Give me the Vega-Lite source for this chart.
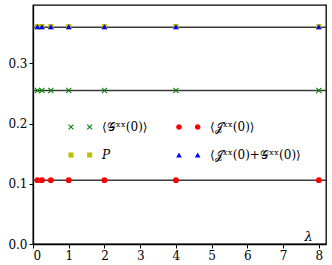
{
  "$schema": "https://vega.github.io/schema/vega-lite/v6.json",
  "width": 293,
  "height": 239,
  "autosize": "none",
  "padding": {"left": 33, "top": 5, "right": 6, "bottom": 21},
  "config": {
    "view": {"stroke": "black", "strokeWidth": 1.3},
    "font": "DejaVu Serif",
    "axis": {"grid": false, "domainColor": "black", "domainWidth": 1.3, "tickColor": "black", "tickSize": 4, "labelColor": "black", "labelFont": "DejaVu Serif", "labelFontSize": 12, "titleFont": "DejaVu Serif", "titleFontWeight": "normal"}
  },
  "datasets": {
    "lines": [{"y": 0.106}, {"y": 0.255}, {"y": 0.36}],
    "pts": [
      {"s": "G", "x": 0.125, "y": 0.255}, {"s": "G", "x": 0.25, "y": 0.255}, {"s": "G", "x": 0.5, "y": 0.255}, {"s": "G", "x": 1, "y": 0.255}, {"s": "G", "x": 2, "y": 0.255}, {"s": "G", "x": 4, "y": 0.255}, {"s": "G", "x": 8, "y": 0.255},
      {"s": "J", "x": 0.125, "y": 0.106}, {"s": "J", "x": 0.25, "y": 0.106}, {"s": "J", "x": 0.5, "y": 0.106}, {"s": "J", "x": 1, "y": 0.106}, {"s": "J", "x": 2, "y": 0.106}, {"s": "J", "x": 4, "y": 0.106}, {"s": "J", "x": 8, "y": 0.106},
      {"s": "P", "x": 0.125, "y": 0.361}, {"s": "P", "x": 0.25, "y": 0.361}, {"s": "P", "x": 0.5, "y": 0.361}, {"s": "P", "x": 1, "y": 0.361}, {"s": "P", "x": 2, "y": 0.361}, {"s": "P", "x": 4, "y": 0.361}, {"s": "P", "x": 8, "y": 0.361},
      {"s": "JG", "x": 0.125, "y": 0.361}, {"s": "JG", "x": 0.25, "y": 0.361}, {"s": "JG", "x": 0.5, "y": 0.361}, {"s": "JG", "x": 1, "y": 0.361}, {"s": "JG", "x": 2, "y": 0.361}, {"s": "JG", "x": 4, "y": 0.361}, {"s": "JG", "x": 8, "y": 0.361}
    ]
  },
  "resolve": {"scale": {"shape": "independent", "color": "independent"}, "legend": {"shape": "independent", "color": "independent"}},
  "layer": [
    {
      "data": {"name": "lines"},
      "mark": {"type": "rule", "color": "#3a3a3a", "strokeWidth": 1.5},
      "encoding": {"y": {"field": "y", "type": "quantitative", "scale": {"domain": [0, 0.397], "nice": false},
          "axis": {"values": [0, 0.1, 0.2, 0.3], "format": ".1f", "title": null}}}
    },
    {
      "data": {"name": "pts"},
      "mark": {"type": "point", "filled": true, "opacity": 1, "size": 34},
      "encoding": {
        "x": {"field": "x", "type": "quantitative", "scale": {"domain": [0, 8.2], "nice": false},
          "axis": {"values": [0, 1, 2, 3, 4, 5, 6, 7, 8], "title": "λ", "titleFontSize": 13, "titleFontStyle": "italic", "titleX": 275, "titleY": -1, "titleBaseline": "bottom", "titleAlign": "center", "titleAnchor": null}},
        "y": {"field": "y", "type": "quantitative", "scale": {"domain": [0, 0.397], "nice": false},
          "axis": {"values": [0, 0.1, 0.2, 0.3], "format": ".1f", "title": null}},
        "color": {"field": "s", "type": "nominal",
          "scale": {"domain": ["G", "P", "J", "JG"], "range": ["#008000", "#bfbf00", "#ff0000", "#0000ff"]},
          "legend": null},
        "shape": {"field": "s", "type": "nominal",
          "scale": {"domain": ["G", "P", "J", "JG"], "range": ["M-1,-0.75L-0.75,-1L0,-0.25L0.75,-1L1,-0.75L0.25,0L1,0.75L0.75,1L0,0.25L-0.75,1L-1,0.75L-0.25,0Z", "M-0.9,-0.9h1.8v1.8h-1.8Z", "circle", "triangle-up"]},
          "legend": null}
      }
    },
    {
      "data": {"name": "pts"},
      "mark": {"type": "point", "filled": true, "opacity": 0, "size": 34},
      "encoding": {
        "x": {"field": "x", "type": "quantitative", "scale": {"domain": [0, 8.2], "nice": false},
          "axis": {"values": [0, 1, 2, 3, 4, 5, 6, 7, 8], "title": "λ", "titleFontSize": 13, "titleFontStyle": "italic", "titleX": 275, "titleY": -1, "titleBaseline": "bottom", "titleAlign": "center", "titleAnchor": null}},
        "y": {"field": "y", "type": "quantitative", "scale": {"domain": [0, 0.397], "nice": false},
          "axis": {"values": [0, 0.1, 0.2, 0.3], "format": ".1f", "title": null}},
        "color": {"field": "s", "type": "nominal",
          "scale": {"domain": ["G", "P", "J", "JG"], "range": ["#008000", "#bfbf00", "#ff0000", "#0000ff"]},
          "legend": {
            "orient": "none", "legendX": 32, "legendY": 116, "columns": 2, "title": null,
            "columnPadding": 25, "rowPadding": 16, "symbolSize": 32, "symbolOpacity": 1, "labelOffset": 25,
            "labelFont": "DejaVu Serif", "labelFontSize": 12, "labelColor": "black",
            "labelExpr": "datum.value === 'G' ? '⟨𝒢ˣˣ(0)⟩' : datum.value === 'J' ? '⟨𝒥ˣˣ(0)⟩' : datum.value === 'P' ? '𝑃' : '⟨𝒥ˣˣ(0)+𝒢ˣˣ(0)⟩'"
          }},
        "shape": {"field": "s", "type": "nominal",
          "scale": {"domain": ["G", "P", "J", "JG"], "range": [
            "M-1,-0.75L-0.75,-1L0,-0.25L0.75,-1L1,-0.75L0.25,0L1,0.75L0.75,1L0,0.25L-0.75,1L-1,0.75L-0.25,0Z M5.6,-0.75L5.85,-1L6.6,-0.25L7.35,-1L7.6,-0.75L6.85,0L7.6,0.75L7.35,1L6.6,0.25L5.85,1L5.6,0.75L6.35,0Z",
            "M-0.9,-0.9h1.8v1.8h-1.8Z M5.7,-0.9h1.8v1.8h-1.8Z",
            "M-1,0A1,1 0 1,0 1,0A1,1 0 1,0 -1,0Z M5.6,0A1,1 0 1,0 7.6,0A1,1 0 1,0 5.6,0Z",
            "M0,-0.87L1,0.87L-1,0.87Z M6.6,-0.87L7.6,0.87L5.6,0.87Z"]},
          "legend": {
            "orient": "none", "legendX": 32, "legendY": 116, "columns": 2, "title": null,
            "columnPadding": 25, "rowPadding": 16, "symbolSize": 32, "symbolOpacity": 1, "labelOffset": 25,
            "labelFont": "DejaVu Serif", "labelFontSize": 12, "labelColor": "black",
            "labelExpr": "datum.value === 'G' ? '⟨𝒢ˣˣ(0)⟩' : datum.value === 'J' ? '⟨𝒥ˣˣ(0)⟩' : datum.value === 'P' ? '𝑃' : '⟨𝒥ˣˣ(0)+𝒢ˣˣ(0)⟩'"
          }}
      }
    }
  ]
}
